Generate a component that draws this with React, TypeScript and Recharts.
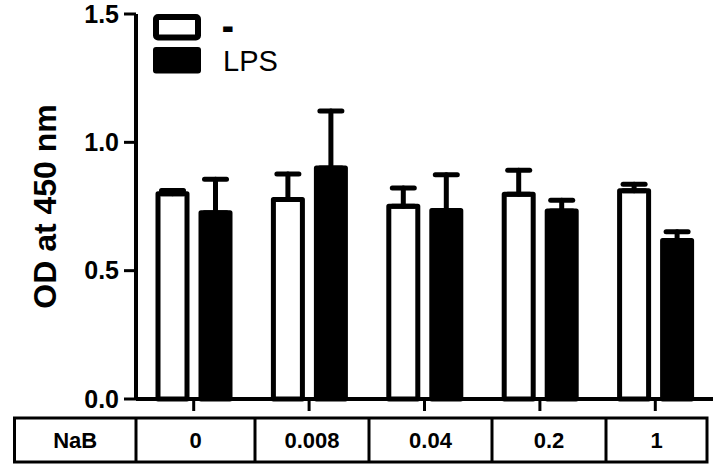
import React from "react";
import { BarChart, Bar, XAxis, YAxis, ErrorBar, Legend } from "recharts";

const categories = ["0", "0.008", "0.04", "0.2", "1"];
const tableHeader = "NaB";
const controlName = "-";
const lpsName = "LPS";
const controlValues = [0.8, 0.777, 0.751, 0.798, 0.811];
const controlErrors = [0.012, 0.1, 0.071, 0.093, 0.026];
const lpsValues = [0.726, 0.9, 0.734, 0.732, 0.618];
const lpsErrors = [0.13, 0.222, 0.14, 0.042, 0.034];
const yTicks = [0, 0.5, 1.0, 1.5];
const yLabel = "OD at 450 nm";

const data = categories.map((c, i) => ({
  nab: c,
  control: controlValues[i],
  controlErr: [0, controlErrors[i]],
  lps: lpsValues[i],
  lpsErr: [0, lpsErrors[i]],
}));

const FONT = "'Liberation Sans', Arial, Helvetica, sans-serif";

// table column boundaries (layout only)
const colEdges = [14.5, 136, 255, 369, 492, 606, 707];
const tableTop = 418;
const tableBottom = 462;

const renderLegend = (props: any) => {
  const payload = props.payload || [];
  return (
    <svg width={160} height={80} style={{ overflow: "visible" }}>
      {payload.map((p: any, i: number) => {
        const isWhite = i === 0;
        const y0 = i === 0 ? 4 : 37;
        return (
          <g key={i}>
            {isWhite ? (
              <rect x={6} y={y0 + 3} width={42} height={20.5} rx={2} fill="#fff" stroke="#000" strokeWidth={6} />
            ) : (
              <rect x={3} y={y0} width={48} height={26.5} rx={3} fill="#000" />
            )}
            <text
              x={73}
              y={i === 0 ? 27 : 61}
              fontFamily={FONT}
              fontSize={29}
              fontWeight={i === 0 ? "bold" : "normal"}
              stroke={i === 0 ? "#000" : "none"}
              strokeWidth={i === 0 ? 2 : 0}
              fill="#000"
            >
              {p.value}
            </text>
          </g>
        );
      })}
    </svg>
  );
};

const YTick = (props: any) => {
  const { x, y, payload } = props;
  return (
    <text x={x} y={y} dy={8.8} textAnchor="end" fontFamily={FONT} fontWeight="bold" fontSize={25} fill="#000">
      {Number(payload.value).toFixed(1)}
    </text>
  );
};

export default function App() {
  return (
    <div style={{ position: "absolute", left: 0, top: 0, width: 719, height: 470, background: "#fff" }}>
      <BarChart
        width={719}
        height={470}
        data={data}
        margin={{ top: 14, right: 6, bottom: 59, left: 0 }}
        barSize={29}
        barGap={14}
      >
        <XAxis
          dataKey="nab"
          height={12}
          tick={() => <g />}
          tickSize={12}
          axisLine={{ stroke: "#000", strokeWidth: 4 }}
          tickLine={{ stroke: "#000", strokeWidth: 3 }}
        />
        <YAxis
          width={136}
          domain={[0, 1.5]}
          ticks={yTicks}
          tickSize={12}
          tickMargin={5}
          tick={<YTick />}
          axisLine={{ stroke: "#000", strokeWidth: 4 }}
          tickLine={{ stroke: "#000", strokeWidth: 3 }}
          label={{
            value: yLabel,
            angle: -90,
            position: "insideLeft",
            dx: 40,
            style: { fontFamily: FONT, fontWeight: "bold", fontSize: 32, fill: "#000", textAnchor: "middle" },
          }}
        />
        <Legend
          layout="horizontal"
          verticalAlign="middle"
          align="center"
          wrapperStyle={{ left: 150, top: 10, width: 160, height: 80 }}
          content={renderLegend}
        />
        <Bar
          dataKey="control"
          name={controlName}
          fill="#fff"
          stroke="#000"
          strokeWidth={5}
          strokeLinejoin="round"
          isAnimationActive={false}
        >
          <ErrorBar dataKey="controlErr" width={11} stroke="#000" strokeWidth={5} strokeLinecap="round" isAnimationActive={false} />
        </Bar>
        <Bar
          dataKey="lps"
          name={lpsName}
          fill="#000"
          stroke="#000"
          strokeWidth={5}
          strokeLinejoin="round"
          isAnimationActive={false}
        >
          <ErrorBar dataKey="lpsErr" width={11} stroke="#000" strokeWidth={5} strokeLinecap="round" isAnimationActive={false} />
        </Bar>
      </BarChart>
      <svg width={719} height={470} style={{ position: "absolute", left: 0, top: 0, pointerEvents: "none" }}>
        <rect
          x={colEdges[0]}
          y={tableTop}
          width={colEdges[colEdges.length - 1] - colEdges[0]}
          height={tableBottom - tableTop}
          fill="none"
          stroke="#000"
          strokeWidth={3}
        />
        {colEdges.slice(1, -1).map((x, i) => (
          <line key={i} x1={x} x2={x} y1={tableTop} y2={tableBottom} stroke="#000" strokeWidth={3} />
        ))}
        {[tableHeader, ...categories].map((t, i) => (
          <text
            key={t}
            x={(colEdges[i] + colEdges[i + 1]) / 2}
            y={(tableTop + tableBottom) / 2 + 7.8}
            textAnchor="middle"
            fontFamily={FONT}
            fontWeight="bold"
            fontSize={22}
            fill="#000"
          >
            {t}
          </text>
        ))}
      </svg>
    </div>
  );
}
